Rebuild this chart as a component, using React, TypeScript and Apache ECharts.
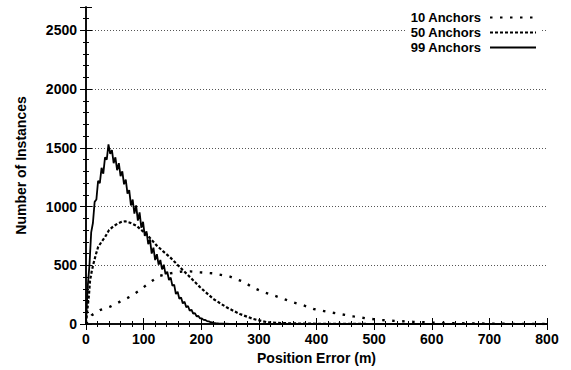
import React, { useEffect, useRef } from "react";
import * as echarts from "echarts";

const seriesNames = ["10 Anchors", "50 Anchors", "99 Anchors"];

const xTicks = [0, 100, 200, 300, 400, 500, 600, 700, 800];
const yTicks = [0, 500, 1000, 1500, 2000, 2500];

const anchors10X = [0, 5, 10, 24, 42, 59, 76, 94, 111, 128, 146, 163, 181, 198, 221, 250, 273, 290, 308, 325, 343, 360, 377, 395, 418, 441, 464, 487, 510, 539, 568, 600, 650, 700, 750, 800];
const anchors10Y = [0, 40, 75, 119, 148, 190, 232, 290, 355, 410, 431, 445, 448, 440, 431, 403, 360, 310, 272, 245, 213, 184, 160, 128, 105, 85, 65, 48, 34, 26, 18, 12, 6, 3, 1, 0];

const anchors50X = [0, 3, 5, 7, 10, 13, 17, 21, 27, 33, 40, 47, 55, 62, 68, 75, 82, 88, 95, 105, 114, 123, 134, 146, 163, 181, 198, 221, 244, 267, 290, 314, 340, 370, 400, 450, 500, 600, 700, 800];
const anchors50Y = [5, 150, 240, 370, 450, 515, 590, 655, 700, 740, 800, 830, 855, 870, 875, 865, 850, 836, 805, 765, 715, 667, 618, 568, 483, 397, 313, 213, 142, 85, 43, 15, 8, 4, 2, 1, 0, 0, 0, 0];

const anchors99X = [0, 3, 6, 9, 12, 15, 18, 21, 24, 27, 30, 33, 36, 39, 42, 45, 48, 51, 54, 57, 60, 63, 66, 69, 72, 75, 78, 81, 84, 87, 90, 93, 96, 99, 102, 105, 108, 111, 114, 117, 120, 123, 126, 129, 132, 135, 138, 141, 144, 147, 150, 153, 156, 159, 162, 165, 168, 171, 174, 177, 180, 183, 186, 189, 192, 195, 198, 201, 204, 207, 210, 213, 216, 219, 222, 225, 230, 240, 250, 260, 300, 400, 500, 600, 700, 800];
const anchors99Y = [10, 320, 500, 780, 860, 1040, 1060, 1220, 1200, 1330, 1280, 1420, 1400, 1530, 1450, 1480, 1370, 1420, 1310, 1370, 1260, 1300, 1190, 1230, 1110, 1140, 1010, 1060, 940, 1010, 880, 950, 820, 870, 750, 790, 680, 720, 600, 650, 545, 595, 505, 545, 465, 505, 425, 445, 375, 395, 325, 335, 255, 275, 215, 225, 175, 190, 142, 153, 113, 122, 88, 92, 66, 68, 48, 48, 35, 34, 25, 23, 15, 14, 10, 8, 5, 3, 1, 0, 0, 0, 0, 0, 0, 0];

const zip = (xs: number[], ys: number[]) => xs.map((x, i) => [x, ys[i]]);

const FONT = "'Liberation Sans', Arial, Helvetica, sans-serif";

export default function App() {
  const ref = useRef<HTMLDivElement>(null);
  useEffect(() => {
    if (!ref.current) return;
    const chart = echarts.init(ref.current, undefined, { renderer: "svg" });
    const tickStyle = { color: "#000", width: 1 };
    const axisLine = { show: true, lineStyle: { color: "#000", width: 1.5 } };
    const xMin = xTicks[0];
    const xMax = xTicks[xTicks.length - 1];
    const yInterval = yTicks[1] - yTicks[0];
    const xInterval = xTicks[1] - xTicks[0];
    const plain = (v: number) => String(v);
    const option: any = {
      animation: false,
      textStyle: { fontFamily: FONT, fontWeight: "bold", color: "#000" },
      grid: { left: 86, right: 24, top: 7, bottom: 46 },
      legend: {
        orient: "vertical",
        right: 30,
        top: 9,
        align: "right",
        itemWidth: 46,
        itemHeight: 12,
        itemGap: 2,
        padding: [2, 4, 2, 4],
        backgroundColor: "#fff",
        data: seriesNames,
        itemStyle: { opacity: 0, borderWidth: 0 },
        textStyle: { fontFamily: FONT, fontWeight: "bold", fontSize: 13, color: "#000", padding: [0, 4, 0, 0] },
      },
      xAxis: [
        {
          type: "value",
          position: "bottom",
          min: xMin,
          max: xMax,
          interval: xInterval,
          name: "Position Error (m)",
          nameLocation: "middle",
          nameGap: 24,
          nameTextStyle: { fontFamily: FONT, fontWeight: "bold", fontSize: 14, color: "#000" },
          axisLine,
          axisTick: { show: true, inside: true, length: 6, lineStyle: tickStyle },
          minorTick: { show: true, splitNumber: 5, length: 3, lineStyle: tickStyle },
          axisLabel: { color: "#000", fontFamily: FONT, fontWeight: "bold", fontSize: 14, margin: 8, formatter: plain },
          splitLine: { show: false },
        },
        {
          type: "value",
          position: "top",
          min: xMin,
          max: xMax,
          interval: xInterval,
          axisLine,
          axisTick: { show: true, inside: true, length: 6, lineStyle: tickStyle },
          minorTick: { show: true, splitNumber: 5, length: 3, lineStyle: tickStyle },
          axisLabel: { show: false },
          splitLine: { show: false },
        },
      ],
      yAxis: [
        {
          type: "value",
          position: "left",
          min: 0,
          max: 2700,
          interval: yInterval,
          name: "Number of Instances",
          nameLocation: "middle",
          nameGap: 58,
          nameRotate: 90,
          nameTextStyle: { fontFamily: FONT, fontWeight: "bold", fontSize: 14, color: "#000" },
          axisLine,
          axisTick: { show: true, inside: true, length: 6, lineStyle: tickStyle },
          minorTick: { show: true, splitNumber: 5, length: 3, lineStyle: tickStyle },
          axisLabel: { color: "#000", fontFamily: FONT, fontWeight: "bold", fontSize: 14, margin: 9, showMaxLabel: false, formatter: plain },
          splitLine: { show: true, showMinLine: false, showMaxLine: false, lineStyle: { color: "#555", width: 1, type: [1, 2] } },
        },
        {
          type: "value",
          position: "right",
          min: 0,
          max: 2700,
          interval: yInterval,
          axisLine,
          axisTick: { show: true, inside: true, length: 6, lineStyle: tickStyle },
          minorTick: { show: true, splitNumber: 5, length: 3, lineStyle: tickStyle },
          axisLabel: { show: false },
          splitLine: { show: false },
        },
      ],
      series: [
        {
          name: seriesNames[0],
          type: "line",
          symbol: "none",
          showSymbol: false,
          data: zip(anchors10X, anchors10Y),
          lineStyle: { color: "#000", width: 2.4, type: [2.5, 7.5] },
          itemStyle: { color: "#000" },
          z: 3,
        },
        {
          name: seriesNames[1],
          type: "line",
          symbol: "none",
          showSymbol: false,
          data: zip(anchors50X, anchors50Y),
          lineStyle: { color: "#000", width: 2.2, type: [3, 2] },
          itemStyle: { color: "#000" },
          z: 4,
        },
        {
          name: seriesNames[2],
          type: "line",
          symbol: "none",
          showSymbol: false,
          data: zip(anchors99X, anchors99Y),
          lineStyle: { color: "#000", width: 1.8 },
          itemStyle: { color: "#000" },
          z: 5,
        },
      ],
    };
    chart.setOption(option);
    return () => chart.dispose();
  }, []);
  return (
    <div
      ref={ref}
      style={{ position: "fixed", left: 0, top: 0, width: 571, height: 370, background: "#fff" }}
    />
  );
}
